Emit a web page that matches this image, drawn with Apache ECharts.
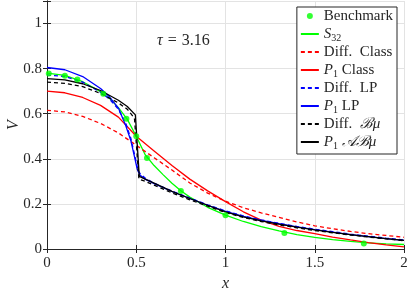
<!DOCTYPE html>
<html><head><meta charset="utf-8">
<script src="https://cdn.jsdelivr.net/npm/echarts@6/dist/echarts.min.js"></script>
<style>html,body{margin:0;padding:0;background:#fff}#c{width:409px;height:292px}</style>
</head><body><div id="c"></div>
<script>
const xTicks = [0, 0.5, 1, 1.5, 2];
const yTicks = [0, 0.2, 0.4, 0.6, 0.8, 1];

const benchX = [0.01, 0.1, 0.17, 0.315, 0.445, 0.5, 0.56, 0.75, 1.0, 1.33, 1.775];
const benchY = [0.778, 0.769, 0.752, 0.689, 0.578, 0.5, 0.404, 0.257, 0.15, 0.071, 0.024];

const s32X = [0,0.1,0.2,0.3,0.35,0.4,0.45,0.5,0.55,0.6,0.65,0.7,0.75,0.8,0.9,1.0,1.1,1.2,1.3,1.4,1.5,1.6,1.7,1.8,1.9,2.0];
const s32Y = [0.78,0.77,0.742,0.698,0.668,0.627,0.575,0.5,0.418,0.37,0.33,0.292,0.258,0.23,0.185,0.15,0.122,0.099,0.08,0.064,0.052,0.042,0.034,0.027,0.023,0.02];

const classX = [0,0.1,0.2,0.3,0.4,0.5,0.6,0.7,0.8,0.9,1.0,1.1,1.2,1.3,1.4,1.5,1.6,1.7,1.8,1.9,2.0];
const diffClassY = [0.615,0.608,0.588,0.557,0.515,0.46,0.405,0.35,0.293,0.248,0.212,0.183,0.16,0.14,0.12,0.103,0.09,0.078,0.068,0.06,0.052];
const p1ClassY = [0.70,0.693,0.672,0.637,0.585,0.50,0.435,0.37,0.31,0.258,0.21,0.165,0.128,0.1,0.082,0.068,0.053,0.04,0.028,0.018,0.009];

const p1LpX = [0,0.1,0.2,0.3,0.35,0.4,0.44,0.47,0.49,0.505,0.52,0.55,0.6,0.7,0.8,0.9,1.0,1.1,1.2,1.3,1.4,1.5,1.6,1.7,1.8,1.9,2.0];
const p1LpY = [0.805,0.795,0.765,0.712,0.675,0.625,0.55,0.48,0.41,0.355,0.328,0.31,0.29,0.255,0.224,0.194,0.167,0.145,0.127,0.112,0.098,0.086,0.075,0.064,0.055,0.046,0.038];
const diffLpX = [0,0.1,0.2,0.3,0.35,0.4,0.44,0.47,0.49,0.51,0.525,0.55,0.6,0.7,0.8,0.9,1.0,1.1,1.2,1.3,1.4,1.5,1.6,1.7,1.8,1.9,2.0];
const diffLpY = [0.772,0.765,0.74,0.695,0.665,0.62,0.56,0.49,0.42,0.35,0.33,0.315,0.292,0.257,0.226,0.196,0.169,0.147,0.129,0.114,0.1,0.088,0.077,0.066,0.057,0.048,0.04];

const p1AbX = [0,0.1,0.2,0.3,0.4,0.45,0.495,0.517,0.55,0.6,0.7,0.8,0.9,1.0,1.1,1.2,1.3,1.4,1.5,1.6,1.7,1.8,1.9,2.0];
const p1AbY = [0.756,0.75,0.733,0.703,0.66,0.632,0.595,0.322,0.31,0.292,0.256,0.224,0.194,0.165,0.143,0.125,0.11,0.097,0.085,0.074,0.064,0.055,0.046,0.038];
const diffBX = [0,0.1,0.2,0.3,0.4,0.45,0.49,0.515,0.55,0.6,0.7,0.8,0.9,1.0,1.1,1.2,1.3,1.4,1.5,1.6,1.7,1.8,1.9,2.0];
const diffBY = [0.74,0.735,0.72,0.69,0.648,0.62,0.58,0.31,0.3,0.283,0.249,0.218,0.19,0.162,0.14,0.122,0.107,0.094,0.082,0.072,0.062,0.053,0.045,0.037];

const names = ['Benchmark','S32','Diff. Class','P1 Class','Diff. LP','P1 LP','Diff. Bmu','P1 ABmu'];
const labels = {
  'Benchmark': '{n|Benchmark}',
  'S32': '{i|S}{sub|32}',
  'Diff. Class': '{n|Diff.  Class}',
  'P1 Class': '{i|P}{sub|1}{n| Class}',
  'Diff. LP': '{n|Diff.  LP}',
  'P1 LP': '{i|P}{sub|1}{n| LP}',
  'Diff. Bmu': '{n|Diff.  }{i|ℬμ}',
  'P1 ABmu': '{i|P}{sub|1}{n| }{i|𝒜ℬμ}'
};

const zip = (xs, ys) => xs.map((x, k) => [x, ys[k]]);
const FONT = "'Liberation Serif', serif";
const TXT = '#262626';

function lineSeries(name, xs, ys, color, dashed) {
  return {
    name, type: 'line', data: zip(xs, ys), symbol: 'none', smooth: false,
    lineStyle: { color, width: 1.3, type: dashed ? [4, 3] : 'solid' },
    itemStyle: { color }, z: 3
  };
}

const chart = echarts.init(document.getElementById('c'), null, { renderer: 'canvas' });
const axisCommon = {
  type: 'value',
  axisLine: { show: true, lineStyle: { color: TXT, width: 1 } },
  axisTick: { show: true, inside: true, length: 4, lineStyle: { color: TXT } },
};
const hidden = { color: 'rgba(0,0,0,0)', borderColor: 'rgba(0,0,0,0)', borderWidth: 0, opacity: 0 };
chart.setOption({
  animation: false,
  textStyle: { fontFamily: FONT },
  grid: { left: 47, right: 5, top: 1, bottom: 43, outerBoundsMode: 'none', containLabel: false },
  xAxis: [
    Object.assign({}, axisCommon, {
      min: xTicks[0], max: xTicks[xTicks.length - 1], interval: 0.5,
      name: 'x', nameLocation: 'middle', nameGap: 27, nameMoveOverlap: false,
      nameTextStyle: { fontFamily: FONT, fontStyle: 'italic', fontSize: 16, color: TXT },
      axisLabel: { fontFamily: FONT, fontSize: 15, color: TXT, margin: 7 },
      splitLine: { show: true, lineStyle: { color: '#e3e3e3', width: 1 } }
    }),
    Object.assign({}, axisCommon, {
      position: 'top', min: xTicks[0], max: xTicks[xTicks.length - 1], interval: 0.5,
      axisLabel: { show: false }, splitLine: { show: false }
    })
  ],
  yAxis: [
    Object.assign({}, axisCommon, {
      min: yTicks[0], max: 1.1, interval: 0.2,
      name: 'V', nameLocation: 'middle', nameGap: 25, nameRotate: 90, nameMoveOverlap: false,
      nameTextStyle: { fontFamily: FONT, fontStyle: 'italic', fontSize: 16, color: TXT },
      axisLabel: { fontFamily: FONT, fontSize: 15, color: TXT, margin: 5,
        formatter: v => (yTicks.some(t => Math.abs(t - v) < 1e-9) ? String(+v.toFixed(1)) : '') },
      splitLine: { show: true, lineStyle: { color: '#e3e3e3', width: 1 } }
    }),
    Object.assign({}, axisCommon, {
      position: 'right', min: yTicks[0], max: 1.1, interval: 0.2,
      axisLabel: { show: false }, splitLine: { show: false }
    })
  ],
  graphic: [{
    type: 'text', left: 157, top: 33,
    style: {
      text: '{i|τ}{e|=}{n|3.16}',
      rich: {
        i: { fontFamily: FONT, fontStyle: 'italic', fontSize: 16, fill: TXT },
        e: { fontFamily: FONT, fontSize: 16, fill: TXT, padding: [0, 5, 0, 5] },
        n: { fontFamily: FONT, fontSize: 16, fill: TXT }
      }
    }
  }],
  legend: {
    orient: 'vertical', right: 12, top: 7,
    data: names.map(n => n === 'Benchmark' ? { name: n } : { name: n, itemStyle: hidden }),
    itemWidth: 18, itemHeight: 6, itemGap: 0,
    padding: [0, 4, 3, 3],
    backgroundColor: '#fff', borderColor: TXT, borderWidth: 1, borderRadius: 0,
    formatter: n => labels[n],
    textStyle: {
      fontFamily: FONT, fontSize: 15, color: TXT, lineHeight: 18,
      rich: {
        n: { fontFamily: FONT, fontSize: 15, color: TXT, lineHeight: 18 },
        i: { fontFamily: FONT, fontStyle: 'italic', fontSize: 15, color: TXT, lineHeight: 18 },
        sub: { fontFamily: FONT, fontSize: 10, color: TXT, lineHeight: 10, verticalAlign: 'bottom' }
      }
    }
  },
  series: [
    { name: 'Benchmark', type: 'scatter', data: zip(benchX, benchY), symbol: 'circle', symbolSize: 6,
      itemStyle: { color: '#00ff00' }, z: 10 },
    lineSeries('S32', s32X, s32Y, '#00ff00', false),
    lineSeries('Diff. Class', classX, diffClassY, '#ff0000', true),
    lineSeries('P1 Class', classX, p1ClassY, '#ff0000', false),
    lineSeries('Diff. LP', diffLpX, diffLpY, '#0000ff', true),
    lineSeries('P1 LP', p1LpX, p1LpY, '#0000ff', false),
    lineSeries('Diff. Bmu', diffBX, diffBY, '#000000', true),
    lineSeries('P1 ABmu', p1AbX, p1AbY, '#000000', false)
  ]
});
</script></body></html>
